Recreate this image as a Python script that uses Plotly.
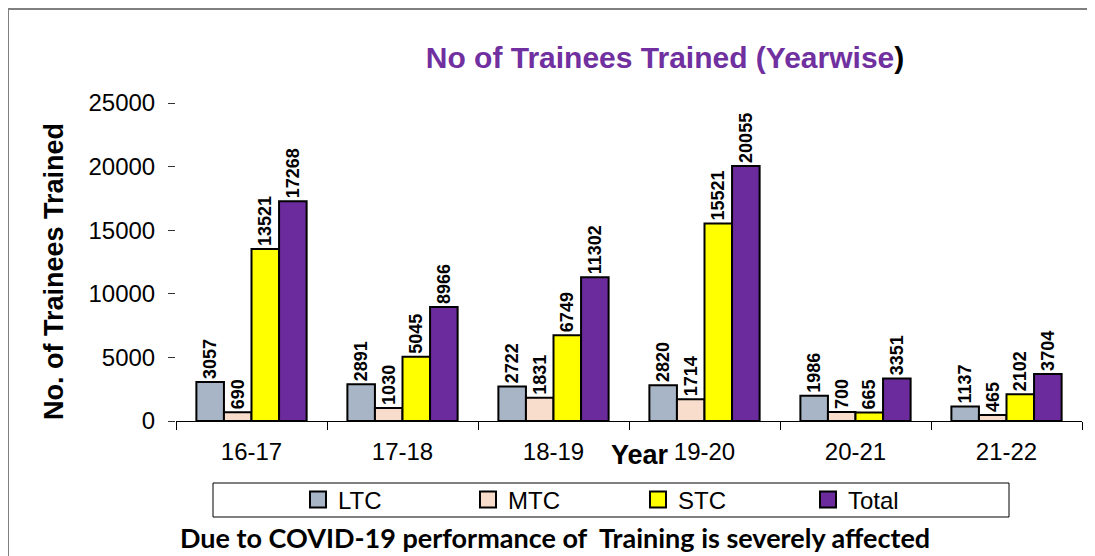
import plotly.graph_objects as go

years = ["16-17", "17-18", "18-19", "19-20", "20-21", "21-22"]
ltc = [3057, 2891, 2722, 2820, 1986, 1137]
mtc = [690, 1030, 1831, 1714, 700, 465]
stc = [13521, 5045, 6749, 15521, 665, 2102]
total = [17268, 8966, 11302, 20055, 3351, 3704]
y_ticks = [0, 5000, 10000, 15000, 20000, 25000]
y_tick_text = [str(v) for v in y_ticks]

series = [("LTC", ltc, "#A8B5C6"), ("MTC", mtc, "#F9DDCC"),
          ("STC", stc, "#FFFF00"), ("Total", total, "#6B2B9C")]

# the page places the figure 8px from the top-left corner of the window
O = 8
W, H = 1095 - O, 556 - O
L, R, T, B = 176 - O, 13, 103 - O, 135
PW, PH = W - L - R, H - T - B


def px(x):
    return (x - O - L) / PW


def py(y):
    return (H - B - (y - O)) / PH


FONT = "Arial, Liberation Sans, sans-serif"

fig = go.Figure()
for name, vals, col in series:
    fig.add_trace(go.Bar(
        x=years, y=vals, name=name, legendgroup=name, showlegend=False,
        marker=dict(color=col, line=dict(color="black", width=2)),
        text=vals, texttemplate="<b>%{text}</b>", textposition="outside",
        textangle=-90, constraintext="none", cliponaxis=False,
        textfont=dict(family=FONT, size=18, color="black"),
    ))
# legend entries with larger square swatches, as in the original key
for name, vals, col in series:
    fig.add_trace(go.Scatter(
        x=[None], y=[None], name=name, legendgroup=name, mode="markers",
        marker=dict(symbol="square", size=16, color=col,
                    line=dict(color="black", width=2)),
        hoverinfo="skip",
    ))

shapes = [
    dict(type="rect", xref="paper", yref="paper", layer="below",
         x0=px(8), x1=px(1130), y0=py(600), y1=py(9),
         fillcolor="white", line=dict(color="#7f7f7f", width=2)),
    dict(type="rect", xref="paper", yref="paper", layer="below",
         x0=px(213), x1=px(1009), y0=py(517), y1=py(483),
         fillcolor="white", line=dict(color="black", width=1)),
]

annotations = [
    dict(text="<b>No. of Trainees Trained</b>", xref="paper", yref="paper",
         x=px(54), y=py(272), xanchor="center", yanchor="middle",
         textangle=-90, showarrow=False,
         font=dict(family=FONT, size=27, color="black")),
    dict(text="<b>Year</b>", xref="paper", yref="paper",
         x=px(640), y=py(455), xanchor="center", yanchor="middle", showarrow=False,
         font=dict(family=FONT, size=27, color="black")),
    dict(text="<b>Due to COVID-19 performance of\u00a0 Training is severely affected</b>",
         xref="paper", yref="paper", x=px(555), y=py(537),
         xanchor="center", yanchor="middle", showarrow=False,
         font=dict(family="Lato, Open Sans, sans-serif", size=27, color="black")),
]

fig.update_layout(
    width=W, height=H,
    margin=dict(l=L, r=R, t=T, b=B, autoexpand=False),
    paper_bgcolor="#E5F3FA", plot_bgcolor="white",
    barmode="group", bargap=0.27, bargroupgap=0,
    title=dict(text="<b><span style='color:#7030A0'>No of Trainees Trained (Yearwise</span>)</b>",
               x=(665 - O) / W, xanchor="center", y=1 - (57 - O) / H, yanchor="middle",
               font=dict(family=FONT, size=30, color="black")),
    xaxis=dict(type="category", categoryorder="array", categoryarray=years,
               showline=True, linecolor="black", linewidth=1,
               ticks="outside", ticklen=8, tickcolor="black", tickson="boundaries",
               showgrid=False, tickfont=dict(family=FONT, size=24, color="black"),
               ticklabelstandoff=9),
    yaxis=dict(range=[0, 25000], tickvals=y_ticks, ticktext=y_tick_text,
               showgrid=False, zeroline=False,
               showline=False, ticks="outside", ticklen=7, tickcolor="#333",
               tickfont=dict(family=FONT, size=24, color="black"),
               ticklabelstandoff=8),
    legend=dict(orientation="h", x=px(298), xanchor="left", y=py(500), yanchor="middle",
                bgcolor="rgba(0,0,0,0)", borderwidth=0, entrywidth=125,
                entrywidthmode="pixels", font=dict(family=FONT, size=24, color="black")),
    shapes=shapes, annotations=annotations,
    showlegend=True,
)

fig.write_html("out.html")
